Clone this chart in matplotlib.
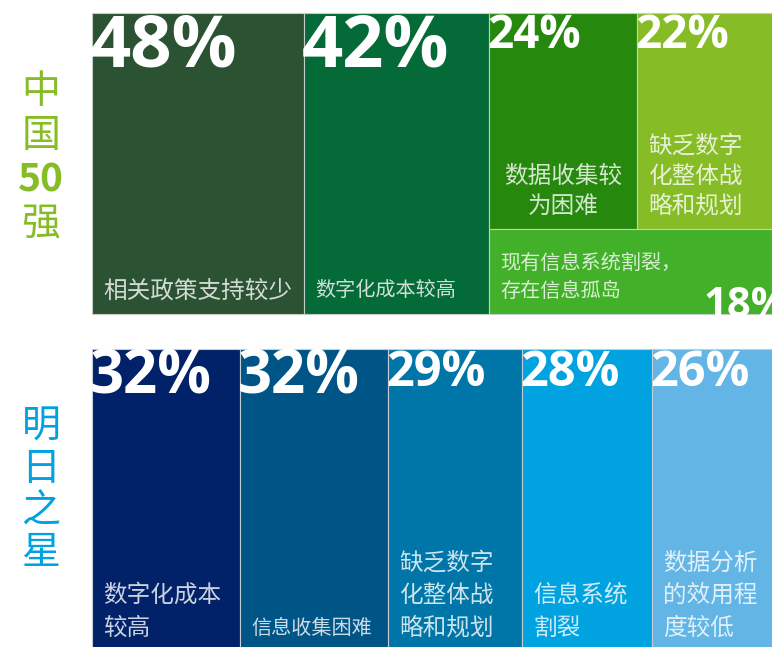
import matplotlib
matplotlib.use('Agg')
import matplotlib.pyplot as plt
from matplotlib.patches import Rectangle

# data
top_labels = ['相关政策支持较少', '数字化成本较高', '数据收集较\n为困难',
              '缺乏数字\n化整体战\n略和规划', '现有信息系统割裂，\n存在信息孤岛']
top_values = [48, 42, 24, 22, 18]
bottom_labels = ['数字化成本\n较高', '信息收集困难', '缺乏数字\n化整体战\n略和规划',
                 '信息系统\n割裂', '数据分析\n的效用程\n度较低']
bottom_values = [32, 32, 29, 28, 26]
row_names = ['中\n国\n50\n强', '明\n日\n之\n星']

# styles
top_colors = ['#2C5234', '#046A38', '#26890D', '#86BC25', '#43B02A']
bottom_colors = ['#012169', '#005587', '#0076A8', '#00A3E0', '#62B5E5']
row_colors = ['#86BC25', '#00A3E0']
top_pct_fs = [52, 52, 33, 33, 30]
bottom_pct_fs = [43, 43, 35, 35, 35]
top_lab_fs = [17, 14.5, 17, 17, 14.5]
bottom_lab_fs = [17, 14.5, 17, 17, 17]
top_lab_ha = ['left', 'left', 'center', 'left', 'left']
top_lab_step = [30, 30, 30, 30, 28]

CJK = ['Noto Sans CJK SC', 'DejaVu Sans']
W, H = 772, 647

fig = plt.figure(figsize=(W / 100, H / 100), dpi=100)
ax = fig.add_axes([0, 0, 1, 1])
ax.set_xlim(0, W)
ax.set_ylim(H, 0)
ax.axis('off')


def top_layout(vals, x0, x1, y0, y1):
    # two full-height columns, then a block: two on top, one below
    total = sum(vals)
    width = x1 - x0
    h = y1 - y0
    rects = []
    x = x0
    for v in vals[:2]:
        w = v / total * width
        rects.append((x, y0, w, h))
        x += w
    w_rest = x1 - x
    h_row = sum(vals[2:4]) / sum(vals[2:]) * h
    xx = x
    for v in vals[2:4]:
        w = v / sum(vals[2:4]) * w_rest
        rects.append((xx, y0, w, h_row))
        xx += w
    rects.append((x, y0 + h_row, w_rest, h - h_row))
    return rects


def column_layout(vals, x0, x1, y0, y1):
    total = sum(vals)
    rects = []
    x = x0
    for v in vals:
        w = v / total * (x1 - x0)
        rects.append((x, y0, w, y1 - y0))
        x += w
    return rects


def draw_label(rect, patch, text, fs, ha, step, bottom_off):
    x, y, w, h = rect
    lines = text.split('\n')
    tx = x + w / 2 if ha == 'center' else x + 11
    last = y + h - bottom_off
    for i, line in enumerate(lines):
        ly = last - (len(lines) - 1 - i) * step
        t = ax.text(tx, ly, line, ha=ha, va='center', fontsize=fs,
                    color='white', alpha=0.8, family=CJK)
        t.set_clip_path(patch)


def draw_pct(rect, patch, val, fs, corner='tl'):
    x, y, w, h = rect
    cap = fs / 72 * 100 * 0.714
    if corner == 'tl':
        t = ax.text(x - 2, y + cap + 2, f'{val}%', ha='left', va='baseline',
                    fontsize=fs, fontweight='bold', color='white', family='Open Sans')
    else:
        t = ax.text(x + w + 17, y + h + 3, f'{val}%', ha='right', va='baseline',
                    fontsize=fs, fontweight='bold', color='white', family='Open Sans')
    t.set_clip_path(patch)


# top panel
rects = top_layout(top_values, 92, W, 13, 314)
for i, r in enumerate(rects):
    p = Rectangle(r[:2], r[2], r[3], facecolor=top_colors[i],
                  edgecolor='#c4ccc8', linewidth=0.8)
    ax.add_patch(p)
    draw_pct(r, p, top_values[i], top_pct_fs[i], 'br' if i == 4 else 'tl')
    draw_label(r, p, top_labels[i], top_lab_fs[i], top_lab_ha[i], top_lab_step[i], 23)

# bottom panel
rects = column_layout(bottom_values, 92, W, 349, H + 2)
for i, r in enumerate(rects):
    p = Rectangle(r[:2], r[2], r[3], facecolor=bottom_colors[i],
                  edgecolor='#c4ccd4', linewidth=0.8)
    ax.add_patch(p)
    draw_pct(r, p, bottom_values[i], bottom_pct_fs[i])
    draw_label(r, p, bottom_labels[i], bottom_lab_fs[i], 'left', 32.5, 21)

# row names, stacked vertically
for name, color, cy, step in zip(row_names, row_colors, [158, 490], [44, 42]):
    parts = name.split('\n')
    for j, ch in enumerate(parts):
        ax.text(41, cy + (j - (len(parts) - 1) / 2) * step, ch, ha='center', va='center',
                fontsize=28, fontweight='bold' if ch.isdigit() else 'normal',
                color=color, family=CJK)

fig.savefig('out.png', dpi=100)
